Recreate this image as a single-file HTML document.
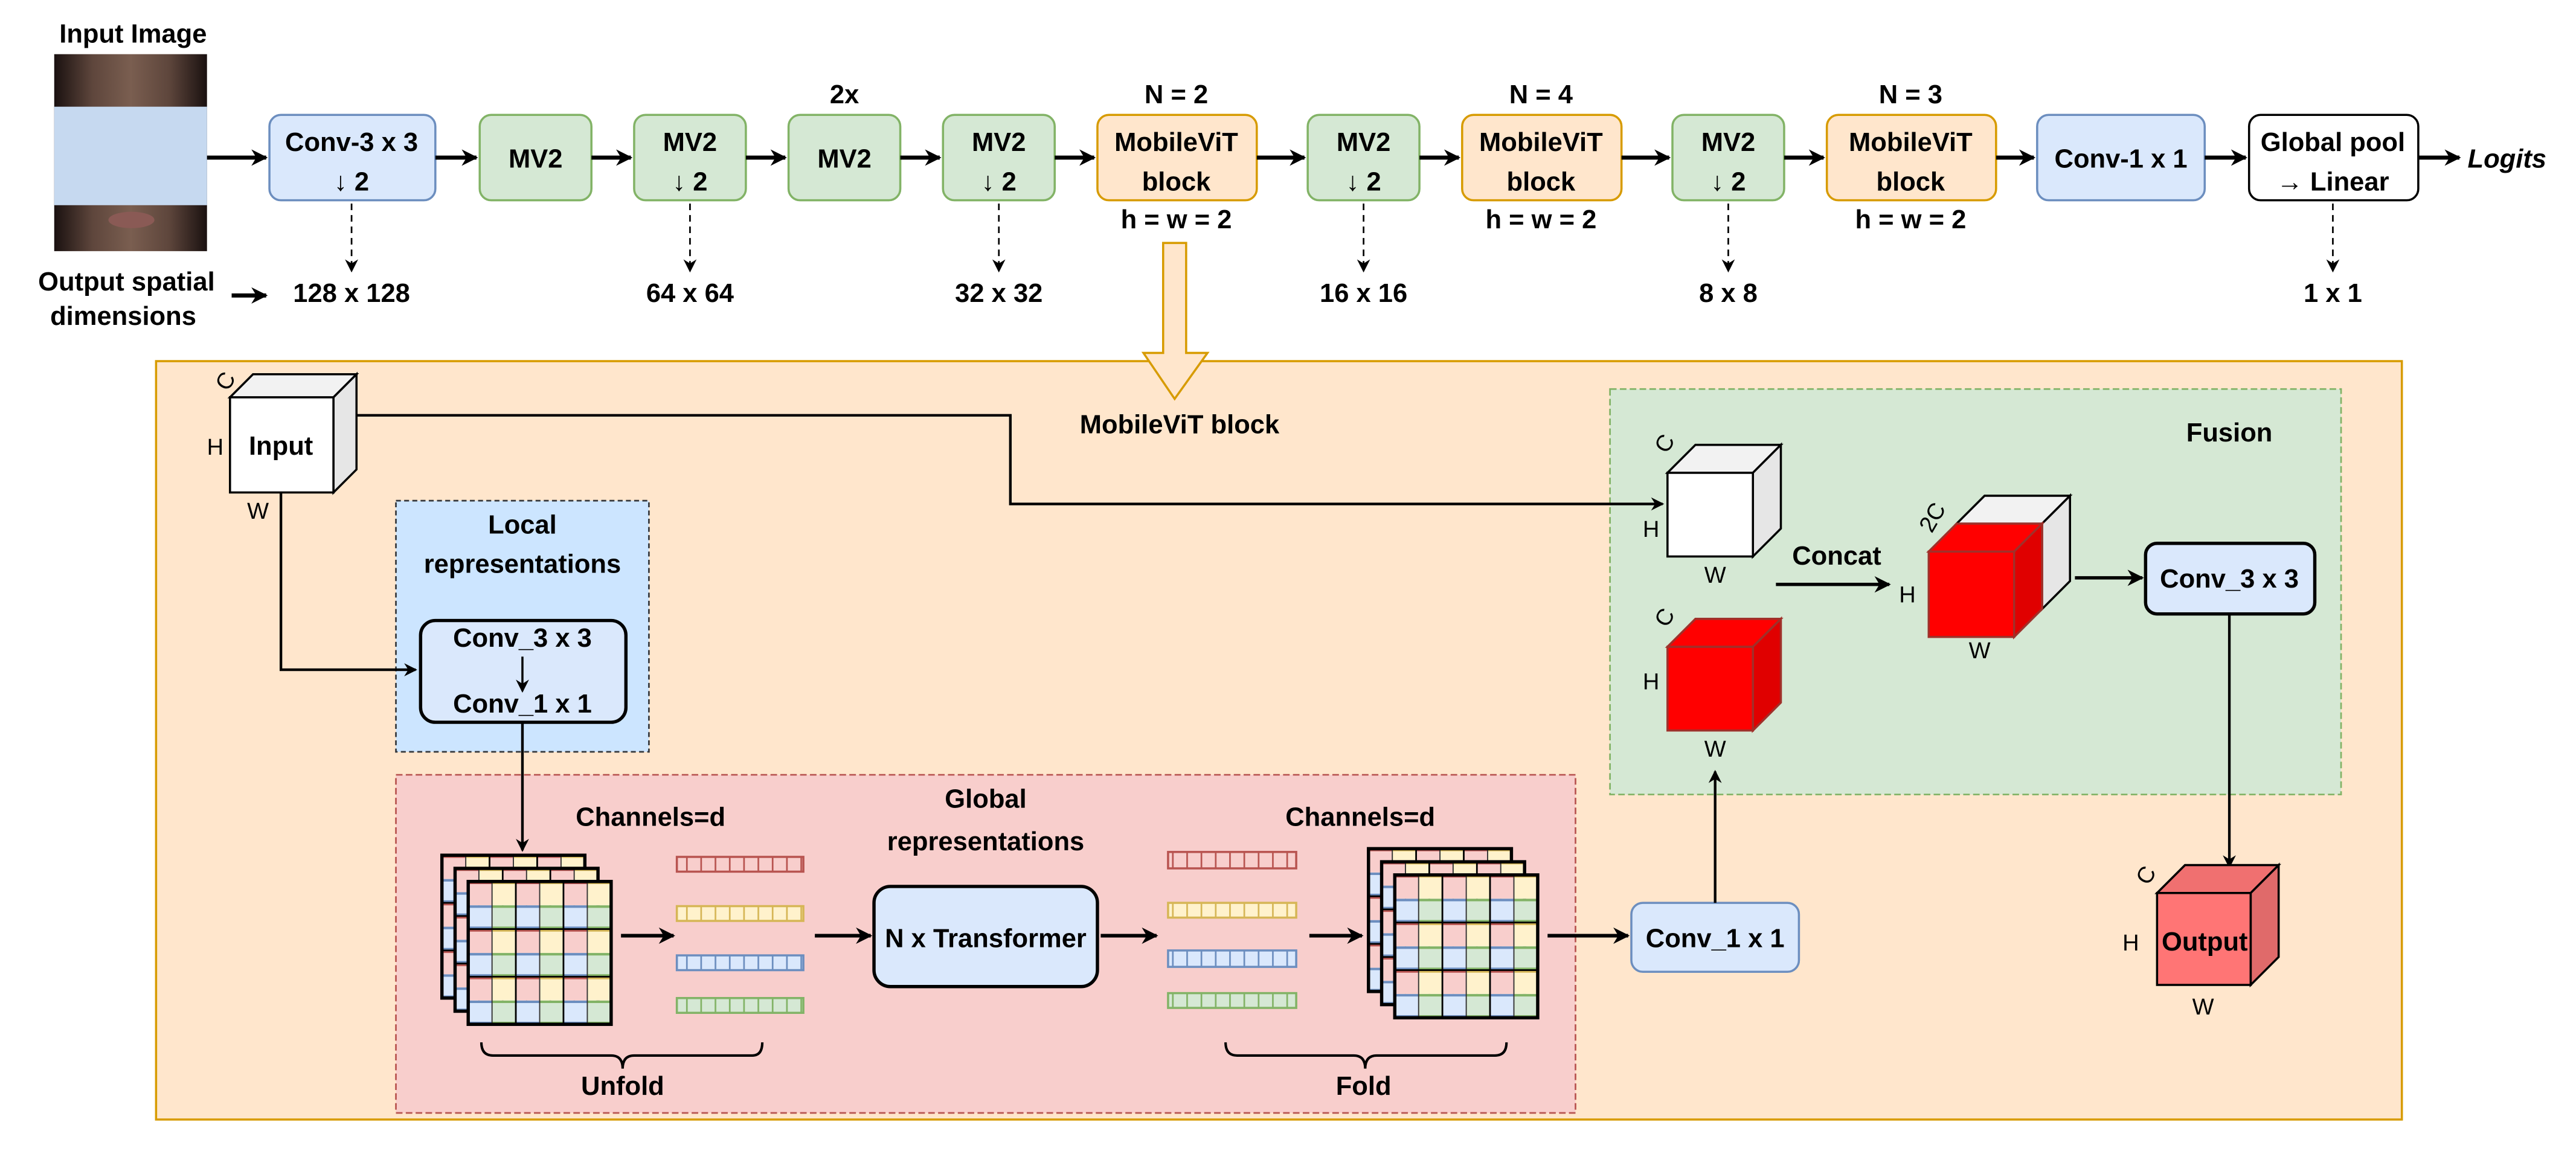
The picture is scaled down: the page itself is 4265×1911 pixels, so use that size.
<!DOCTYPE html>
<html><head><meta charset="utf-8"><style>
html,body{margin:0;padding:0;background:#fff;}
svg{display:block;}
text{font-family:"Liberation Sans",sans-serif;}
.b{font-weight:bold;font-size:16px;text-anchor:middle;}
.n{font-size:14px;text-anchor:middle;}
</style></head><body>
<svg width="4265" height="1911" viewBox="0 0 1568 703" preserveAspectRatio="none" xmlns="http://www.w3.org/2000/svg">
<defs>
<marker id="ah" markerWidth="10" markerHeight="10" refX="9" refY="5" orient="auto" markerUnits="userSpaceOnUse"><path d="M0,0 L10,5 L0,10 L3,5 Z" fill="#000"/></marker>
<marker id="as" markerWidth="8" markerHeight="8" refX="7" refY="4" orient="auto" markerUnits="userSpaceOnUse"><path d="M0,0 L8,4 L0,8 L2.5,4 Z" fill="#000"/></marker>
<linearGradient id="face" x1="0" y1="0" x2="1" y2="0"><stop offset="0" stop-color="#1a1110"/><stop offset="0.25" stop-color="#5e463c"/><stop offset="0.5" stop-color="#7a5e50"/><stop offset="0.75" stop-color="#5e463c"/><stop offset="1" stop-color="#1a1110"/></linearGradient>
<g id="cell">
<rect x="0" y="0" width="14.5" height="14.5" fill="#f8cecc"/><rect x="14.5" y="0" width="14.5" height="14.5" fill="#fff2cc"/>
<rect x="0" y="14.5" width="14.5" height="14.5" fill="#dae8fc"/><rect x="14.5" y="14.5" width="14.5" height="14.5" fill="#d5e8d4"/>
<line x1="0" y1="0.8" x2="14.5" y2="0.8" stroke="#b85450" stroke-width="1.5"/><line x1="14.5" y1="0.8" x2="29" y2="0.8" stroke="#d6b656" stroke-width="1.5"/>
<line x1="0" y1="15.3" x2="14.5" y2="15.3" stroke="#6c8ebf" stroke-width="1.5"/><line x1="14.5" y1="15.3" x2="29" y2="15.3" stroke="#82b366" stroke-width="1.5"/>
<line x1="0" y1="28.2" x2="14.5" y2="28.2" stroke="#6c8ebf" stroke-width="1.5"/><line x1="14.5" y1="28.2" x2="29" y2="28.2" stroke="#82b366" stroke-width="1.5"/>
<line x1="14.5" y1="0" x2="14.5" y2="29" stroke="#333" stroke-width="0.7"/>
<rect x="0" y="0" width="29" height="29" fill="none" stroke="#000" stroke-width="1"/>
</g>
<g id="layer">
<use href="#cell" x="0" y="0"/><use href="#cell" x="29" y="0"/><use href="#cell" x="58" y="0"/>
<use href="#cell" x="0" y="29"/><use href="#cell" x="29" y="29"/><use href="#cell" x="58" y="29"/>
<use href="#cell" x="0" y="58"/><use href="#cell" x="29" y="58"/><use href="#cell" x="58" y="58"/>
<rect x="0" y="0" width="87" height="87" fill="none" stroke="#000" stroke-width="2"/>
</g>
<g id="stack"><use href="#layer" x="0" y="0"/><use href="#layer" x="8" y="8"/><use href="#layer" x="16" y="16"/></g>
<pattern id="pr" width="8.7" height="10" patternUnits="userSpaceOnUse"><line x1="0.5" y1="0" x2="0.5" y2="10" stroke="#b85450" stroke-width="1"/></pattern>
<pattern id="py" width="8.7" height="10" patternUnits="userSpaceOnUse"><line x1="0.5" y1="0" x2="0.5" y2="10" stroke="#d6b656" stroke-width="1"/></pattern>
<pattern id="pb" width="8.7" height="10" patternUnits="userSpaceOnUse"><line x1="0.5" y1="0" x2="0.5" y2="10" stroke="#6c8ebf" stroke-width="1"/></pattern>
<pattern id="pg" width="8.7" height="10" patternUnits="userSpaceOnUse"><line x1="0.5" y1="0" x2="0.5" y2="10" stroke="#82b366" stroke-width="1"/></pattern>
</defs>

<text class="b" x="81" y="26">Input Image</text>
<rect x="33" y="33" width="93" height="120" fill="url(#face)"/>
<ellipse cx="80" cy="134" rx="14" ry="5" fill="#8a5a55"/>
<rect x="33" y="65" width="93" height="60" fill="#c6d9f0"/>
<line x1="126" y1="96" x2="162" y2="96" stroke="#000" stroke-width="2.5" marker-end="url(#ah)"/>

<g stroke-width="1.3">
<rect x="164" y="70" width="101" height="52" rx="7" fill="#dae8fc" stroke="#6c8ebf"/>
<rect x="292" y="70" width="68" height="52" rx="7" fill="#d5e8d4" stroke="#82b366"/>
<rect x="386" y="70" width="68" height="52" rx="7" fill="#d5e8d4" stroke="#82b366"/>
<rect x="480" y="70" width="68" height="52" rx="7" fill="#d5e8d4" stroke="#82b366"/>
<rect x="574" y="70" width="68" height="52" rx="7" fill="#d5e8d4" stroke="#82b366"/>
<rect x="668" y="70" width="97" height="52" rx="7" fill="#ffe6cc" stroke="#d79b00"/>
<rect x="796" y="70" width="68" height="52" rx="7" fill="#d5e8d4" stroke="#82b366"/>
<rect x="890" y="70" width="97" height="52" rx="7" fill="#ffe6cc" stroke="#d79b00"/>
<rect x="1018" y="70" width="68" height="52" rx="7" fill="#d5e8d4" stroke="#82b366"/>
<rect x="1112" y="70" width="103" height="52" rx="7" fill="#ffe6cc" stroke="#d79b00"/>
<rect x="1240" y="70" width="102" height="52" rx="7" fill="#dae8fc" stroke="#6c8ebf"/>
<rect x="1369" y="70" width="103" height="52" rx="7" fill="#fff" stroke="#000"/>
</g>
<text class="b" x="214" y="92">Conv-3 x 3</text><text class="b" x="214" y="116">↓ 2</text>
<text class="b" x="326" y="102">MV2</text>
<text class="b" x="420" y="92">MV2</text><text class="b" x="420" y="116">↓ 2</text>
<text class="b" x="514" y="102">MV2</text>
<text class="b" x="608" y="92">MV2</text><text class="b" x="608" y="116">↓ 2</text>
<text class="b" x="716" y="92">MobileViT</text><text class="b" x="716" y="116">block</text>
<text class="b" x="830" y="92">MV2</text><text class="b" x="830" y="116">↓ 2</text>
<text class="b" x="938" y="92">MobileViT</text><text class="b" x="938" y="116">block</text>
<text class="b" x="1052" y="92">MV2</text><text class="b" x="1052" y="116">↓ 2</text>
<text class="b" x="1163" y="92">MobileViT</text><text class="b" x="1163" y="116">block</text>
<text class="b" x="1291" y="102">Conv-1 x 1</text>
<text class="b" x="1420" y="92">Global pool</text><text class="b" x="1420" y="116">→ Linear</text>
<text class="b" x="514" y="63">2x</text>
<text class="b" x="716" y="63">N = 2</text><text class="b" x="716" y="139">h = w = 2</text>
<text class="b" x="938" y="63">N = 4</text><text class="b" x="938" y="139">h = w = 2</text>
<text class="b" x="1163" y="63">N = 3</text><text class="b" x="1163" y="139">h = w = 2</text>
<text class="b" x="1526" y="102" font-style="italic">Logits</text>
<g stroke="#000" stroke-width="2.5">
<line x1="265" y1="96" x2="290" y2="96" marker-end="url(#ah)"/>
<line x1="360" y1="96" x2="384" y2="96" marker-end="url(#ah)"/>
<line x1="454" y1="96" x2="478" y2="96" marker-end="url(#ah)"/>
<line x1="548" y1="96" x2="572" y2="96" marker-end="url(#ah)"/>
<line x1="642" y1="96" x2="666" y2="96" marker-end="url(#ah)"/>
<line x1="765" y1="96" x2="794" y2="96" marker-end="url(#ah)"/>
<line x1="864" y1="96" x2="888" y2="96" marker-end="url(#ah)"/>
<line x1="987" y1="96" x2="1016" y2="96" marker-end="url(#ah)"/>
<line x1="1086" y1="96" x2="1110" y2="96" marker-end="url(#ah)"/>
<line x1="1215" y1="96" x2="1238" y2="96" marker-end="url(#ah)"/>
<line x1="1342" y1="96" x2="1367" y2="96" marker-end="url(#ah)"/>
<line x1="1472" y1="96" x2="1497" y2="96" marker-end="url(#ah)"/>
<line x1="141" y1="180" x2="162" y2="180" marker-end="url(#ah)"/>
</g>
<g stroke="#000" stroke-width="1" stroke-dasharray="4,3">
<line x1="214" y1="124" x2="214" y2="165" marker-end="url(#as)"/>
<line x1="420" y1="124" x2="420" y2="165" marker-end="url(#as)"/>
<line x1="608" y1="124" x2="608" y2="165" marker-end="url(#as)"/>
<line x1="830" y1="124" x2="830" y2="165" marker-end="url(#as)"/>
<line x1="1052" y1="124" x2="1052" y2="165" marker-end="url(#as)"/>
<line x1="1420" y1="124" x2="1420" y2="165" marker-end="url(#as)"/>
</g>
<text class="b" x="77" y="177">Output spatial</text>
<text class="b" x="75" y="198">dimensions</text>
<text class="b" x="214" y="184">128 x 128</text>
<text class="b" x="420" y="184">64 x 64</text>
<text class="b" x="608" y="184">32 x 32</text>
<text class="b" x="830" y="184">16 x 16</text>
<text class="b" x="1052" y="184">8 x 8</text>
<text class="b" x="1420" y="184">1 x 1</text>

<rect x="95" y="220" width="1367" height="462" fill="#ffe6cc" stroke="#d79b00" stroke-width="1.3"/>
<path d="M708,148 L722,148 L722,215 L735,215 L715,243 L696,215 L708,215 Z" fill="#ffe6cc" stroke="#d79b00" stroke-width="1.3"/>
<text class="b" x="718" y="264">MobileViT block</text>

<rect x="241" y="305" width="154" height="153" fill="#cce5ff" stroke="#36393d" stroke-width="1" stroke-dasharray="3,2"/>
<text class="b" x="318" y="325">Local</text>
<text class="b" x="318" y="349">representations</text>
<rect x="256" y="378" width="125" height="62" rx="9" fill="#dae8fc" stroke="#000" stroke-width="2"/>
<text class="b" x="318" y="394" font-size="14">Conv_3 x 3</text>
<text class="b" x="318" y="434" font-size="14">Conv_1 x 1</text>
<line x1="318" y1="400" x2="318" y2="421" stroke="#000" stroke-width="1.3" marker-end="url(#as)"/>

<rect x="241" y="472" width="718" height="206" fill="#f8cecc" stroke="#b85450" stroke-width="1" stroke-dasharray="4,2"/>
<text class="b" x="600" y="492">Global</text>
<text class="b" x="600" y="518">representations</text>
<text class="b" x="396" y="503">Channels=d</text>
<text class="b" x="828" y="503">Channels=d</text>
<use href="#stack" x="269" y="521"/>
<use href="#stack" x="833" y="517"/>
<g stroke-width="1.3">
<rect x="412" y="522" width="77" height="9" fill="#f8cecc"/><rect x="412" y="522" width="77" height="9" fill="url(#pr)" stroke="#b85450"/>
<rect x="412" y="552" width="77" height="9" fill="#fff2cc"/><rect x="412" y="552" width="77" height="9" fill="url(#py)" stroke="#d6b656"/>
<rect x="412" y="582" width="77" height="9" fill="#dae8fc"/><rect x="412" y="582" width="77" height="9" fill="url(#pb)" stroke="#6c8ebf"/>
<rect x="412" y="608" width="77" height="9" fill="#d5e8d4"/><rect x="412" y="608" width="77" height="9" fill="url(#pg)" stroke="#82b366"/>
<rect x="711" y="519" width="78" height="10" fill="#f8cecc"/><rect x="711" y="519" width="78" height="10" fill="url(#pr)" stroke="#b85450"/>
<rect x="711" y="550" width="78" height="9" fill="#fff2cc"/><rect x="711" y="550" width="78" height="9" fill="url(#py)" stroke="#d6b656"/>
<rect x="711" y="579" width="78" height="10" fill="#dae8fc"/><rect x="711" y="579" width="78" height="10" fill="url(#pb)" stroke="#6c8ebf"/>
<rect x="711" y="605" width="78" height="9" fill="#d5e8d4"/><rect x="711" y="605" width="78" height="9" fill="url(#pg)" stroke="#82b366"/>
</g>
<rect x="532" y="540" width="136" height="61" rx="10" fill="#dae8fc" stroke="#000" stroke-width="2"/>
<text class="b" x="600" y="577" font-size="14" font-weight="normal">N x Transformer</text>
<g stroke="#000" stroke-width="2.2">
<line x1="378" y1="570" x2="410" y2="570" marker-end="url(#ah)"/>
<line x1="496" y1="570" x2="530" y2="570" marker-end="url(#ah)"/>
<line x1="670" y1="570" x2="704" y2="570" marker-end="url(#ah)"/>
<line x1="797" y1="570" x2="829" y2="570" marker-end="url(#ah)"/>
<line x1="942" y1="570" x2="991" y2="570" marker-end="url(#ah)"/>
</g>
<g fill="none" stroke="#000" stroke-width="1.5">
<path d="M293,635 Q293,643 300,643 L372,643 Q379,643 379,651 Q379,643 386,643 L458,643 Q464,643 464,635"/>
<path d="M746,635 Q746,643 753,643 L824,643 Q831,643 831,651 Q831,643 838,643 L910,643 Q917,643 917,635"/>
</g>
<text class="b" x="379" y="667">Unfold</text>
<text class="b" x="830" y="667">Fold</text>

<rect x="980" y="237" width="445" height="247" fill="#d5e8d4" stroke="#82b366" stroke-width="1" stroke-dasharray="4,2"/>
<text class="b" x="1357" y="269">Fusion</text>
<g stroke="#000" stroke-width="1.3">
<rect x="1015" y="288" width="52" height="51" fill="#fff"/>
<polygon points="1015,288 1032,271 1084,271 1067,288" fill="#f2f2f2"/>
<polygon points="1067,288 1084,271 1084,322 1067,339" fill="#e6e6e6"/>
</g>
<g stroke="#a0302a" stroke-width="1.3">
<rect x="1015" y="394" width="52" height="51" fill="#ff0000"/>
<polygon points="1015,394 1032,377 1084,377 1067,394" fill="#ff0000"/>
<polygon points="1067,394 1084,377 1084,428 1067,445" fill="#e00000"/>
</g>
<g stroke="#000" stroke-width="1.3">
<polygon points="1191,319 1208,302 1260,302 1243,319" fill="#f2f2f2"/>
<polygon points="1243,319 1260,302 1260,354 1243,371" fill="#e6e6e6"/>
</g>
<g stroke="#a0302a" stroke-width="1.3">
<rect x="1174" y="336" width="52" height="52" fill="#ff0000"/>
<polygon points="1174,336 1191,319 1243,319 1226,336" fill="#ff0000"/>
<polygon points="1226,336 1243,319 1243,371 1226,388" fill="#e00000"/>
</g>
<text class="b" x="1118" y="344">Concat</text>
<g stroke="#000" stroke-width="2">
<line x1="1081" y1="356" x2="1150" y2="356" marker-end="url(#ah)"/>
<line x1="1263" y1="352" x2="1304" y2="352" marker-end="url(#ah)"/>
</g>
<rect x="1306" y="331" width="103" height="43" rx="7" fill="#dae8fc" stroke="#000" stroke-width="2"/>
<text class="b" x="1357" y="358" font-size="15">Conv_3 x 3</text>
<line x1="1357" y1="374" x2="1357" y2="528" stroke="#000" stroke-width="1.6" marker-end="url(#as)"/>
<text x="1005" y="327" class="n">H</text><text x="1044" y="355" class="n">W</text>
<text x="1013" y="275" class="n" transform="rotate(-60 1013 270)">C</text>
<text x="1005" y="420" class="n">H</text><text x="1044" y="461" class="n">W</text>
<text x="1013" y="381" class="n" transform="rotate(-60 1013 376)">C</text>
<text x="1161" y="367" class="n">H</text><text x="1205" y="401" class="n">W</text>
<text x="1176" y="320" class="n" transform="rotate(-60 1176 315)">2C</text>

<rect x="993" y="550" width="102" height="42" rx="7" fill="#dae8fc" stroke="#6c8ebf" stroke-width="1.3"/>
<text class="b" x="1044" y="577" font-size="15">Conv_1 x 1</text>
<line x1="1044" y1="550" x2="1044" y2="470" stroke="#000" stroke-width="1.6" marker-end="url(#as)"/>

<g stroke="#000" stroke-width="1.3">
<rect x="1313" y="544" width="57" height="56" fill="#ff7575"/>
<polygon points="1313,544 1330,527 1387,527 1370,544" fill="#f07070"/>
<polygon points="1370,544 1387,527 1387,583 1370,600" fill="#e06a6a"/>
</g>
<text class="b" x="1342" y="579" font-size="14">Output</text>
<text class="n" x="1297" y="579">H</text><text class="n" x="1341" y="618">W</text>
<text class="n" x="1306" y="538" transform="rotate(-60 1306 533)">C</text>

<g stroke="#000" stroke-width="1.3">
<rect x="140" y="242" width="63" height="58" fill="#fff"/>
<polygon points="140,242 154,228 217,228 203,242" fill="#f2f2f2"/>
<polygon points="203,242 217,228 217,286 203,300" fill="#e6e6e6"/>
</g>
<text class="b" x="171" y="277">Input</text>
<text class="n" x="131" y="277">H</text><text class="n" x="157" y="316">W</text>
<text class="n" x="137" y="237" transform="rotate(-60 137 232)">C</text>

<g fill="none" stroke="#000" stroke-width="1.6">
<polyline points="217,253 615,253 615,307 1012,307" marker-end="url(#as)"/>
<polyline points="171,300 171,408 253,408" marker-end="url(#as)"/>
<line x1="318" y1="440" x2="318" y2="518" marker-end="url(#as)"/>
</g>
</svg>
</body></html>
